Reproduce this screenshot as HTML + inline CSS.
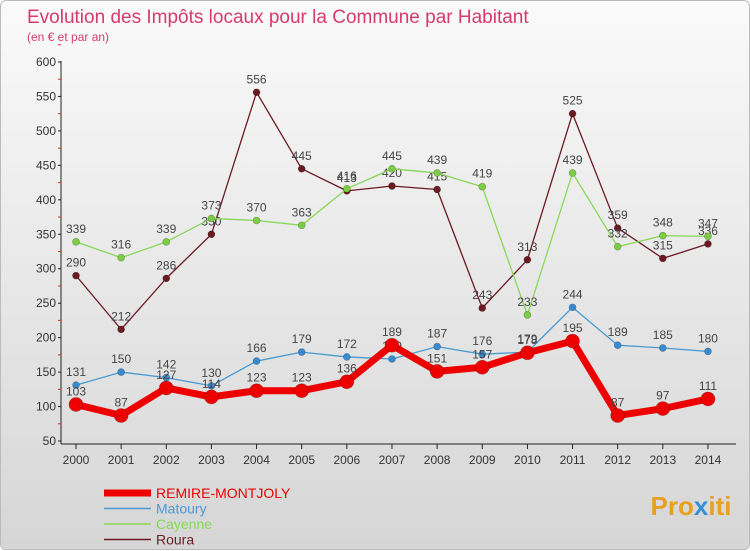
<!DOCTYPE html>
<html><head><meta charset="utf-8"><style>
body{margin:0;width:750px;height:550px;overflow:hidden;font-family:"Liberation Sans",sans-serif}
#wrap{position:absolute;left:0;top:0;width:748px;height:548px;border:1px solid #bbb;border-radius:6px;background:linear-gradient(#fafafa,#d6d6d6)}
</style></head><body>
<div id="wrap">
<svg id="chart" width="750" height="550" style="position:absolute;left:0;top:0">
<text x="26" y="22" font-size="19" fill="#d63a6e">Evolution des Impôts locaux pour la Commune par Habitant</text>
<text x="26" y="40" font-size="12" fill="#d63a6e">(en € et par an)</text>
<text x="690" y="514" font-size="26" font-weight="bold" text-anchor="middle"><tspan fill="#e8a020">Pro</tspan><tspan fill="#3a8fd0">x</tspan><tspan fill="#e8a020">iti</tspan></text>
</svg>
</div>
<script>
const years=[2000,2001,2002,2003,2004,2005,2006,2007,2008,2009,2010,2011,2012,2013,2014];
const remire=[103,87,127,114,123,123,136,189,151,157,178,195,87,97,111];
const matoury=[131,150,142,130,166,179,172,169,187,176,179,244,189,185,180];
const cayenne=[339,316,339,373,370,363,416,445,439,419,233,439,332,348,347];
const roura=[290,212,286,350,556,445,413,420,415,243,313,525,359,315,336];
const yTicks=[50,100,150,200,250,300,350,400,450,500,550,600];
const NS='http://www.w3.org/2000/svg';
const svg=document.getElementById('chart');
const X=i=>75+i*45.14;
const Y=v=>440-(v-50)*(379/550);
function mk(t,a,p){const e=document.createElementNS(NS,t);for(const k in a)e.setAttribute(k,a[k]);(p||svg).appendChild(e);return e;}
// axes
let ax=mk('line',{x1:60,y1:60,x2:60,y2:443,stroke:'#222'});


ax=mk('line',{x1:60,y1:443,x2:735,y2:443,stroke:'#222'});


yTicks.forEach(v=>{
 const t=mk('text',{x:55,y:Y(v)+4,'font-size':12,fill:'#333','text-anchor':'end'});t.textContent=v;
 
 
 mk('line',{x1:57,y1:Y(v),x2:60,y2:Y(v),stroke:'#222'});
 mk('line',{x1:57,y1:Y(v+25),x2:60,y2:Y(v+25),stroke:'#e22'});
});
years.forEach((yr,i)=>{
 mk('line',{x1:X(i),y1:443,x2:X(i),y2:448,stroke:'#222'});
 const t=mk('text',{x:X(i),y:463,'font-size':12,fill:'#333','text-anchor':'middle'});t.textContent=yr;
 
 
});
function series(d,color,w,r,name,dot){
 const g=mk('g',{});
 
 
 mk('polyline',{points:d.map((v,i)=>X(i)+','+Y(v)).join(' '),fill:'none',stroke:color,'stroke-width':w,'stroke-linejoin':'round'},g);
 d.forEach((v,i)=>{
  const c=mk('circle',{cx:X(i),cy:Y(v),r:r,fill:dot,stroke:'rgba(0,0,0,0.3)','stroke-width':0.6},g);
  
  
  const t=mk('text',{x:X(i),y:Y(v)-9,'font-size':12,fill:'#444','text-anchor':'middle'},g);t.textContent=v;
  
  
 });
}
series(roura,'#6b1a22',1.3,3.5,'series-roura','#6b1a22');
series(cayenne,'#88d858',1.3,3.5,'series-cayenne','#7ccc44');
series(matoury,'#4a9ad4',1.3,3.5,'series-matoury','#3a8ad0');
series(remire,'#ee0000',7,7,'series-remire-montjoly','#ee0000');
const legend=[['REMIRE-MONTJOLY','#ee0000',7],['Matoury','#4a9ad4',1.5],['Cayenne','#88d858',1.5],['Roura','#6b1a22',1.5]];
legend.forEach((l,i)=>{
 const y=492+i*15.5;
 const g=mk('g',{});
 
 
 mk('line',{x1:103,y1:y,x2:150,y2:y,stroke:l[1],'stroke-width':l[2]},g);
 const t=mk('text',{x:155,y:y+5,'font-size':14,fill:l[1]},g);t.textContent=l[0];
});
</script>
</body></html>
